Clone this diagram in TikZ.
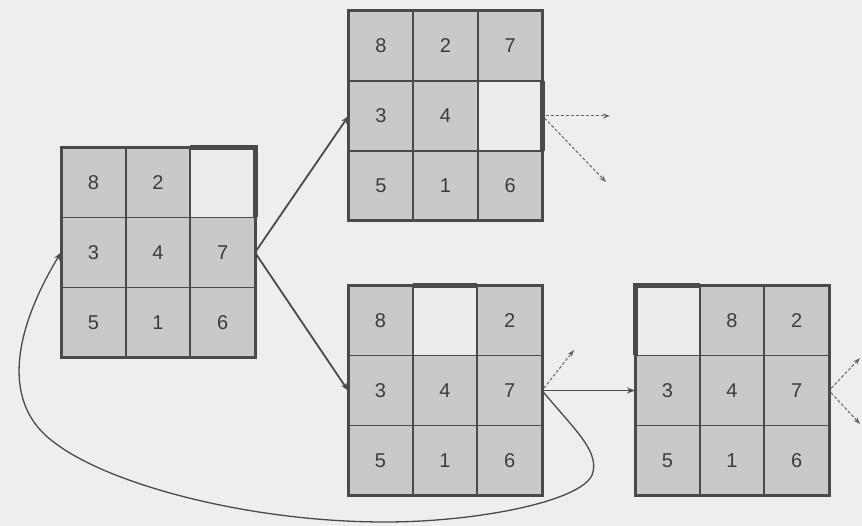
\documentclass[tikz,border=0pt]{standalone}
\usepackage{fontspec}
\setmainfont{Liberation Sans}
\usetikzlibrary{arrows.meta}
\definecolor{bg}{HTML}{EEEEEE}
\definecolor{tile}{HTML}{C9C9C9}
\definecolor{hole}{HTML}{ECECEC}
\definecolor{ink}{HTML}{4A4A4A}
\definecolor{digit}{HTML}{3C3C3C}
\tikzset{
  cell/.style={draw=ink, line width=1.8pt, minimum width=64.67pt, minimum height=70pt, inner sep=0pt, outer sep=0pt, font=\fontsize{20}{20}\selectfont, text=digit},
  tilecell/.style={cell, fill=tile},
  holecell/.style={cell, fill=hole},
  frame/.style={draw=ink, line width=3pt, minimum width=194pt, minimum height=210pt, inner sep=0pt, outer sep=0pt},
  holeedge/.style={draw=ink, line width=5pt},
  move/.style={draw=ink, line width=1.8pt, -{Stealth[length=8pt,width=6pt]}},
  loopmove/.style={draw=ink, line width=1.3pt, -{Stealth[length=8pt,width=6pt]}},
  nextmove/.style={draw=ink!85, line width=1pt, dash pattern=on 3pt off 2pt, -{Stealth[length=7pt,width=5pt]}, shorten <=3pt},
}
\newcommand\puzzlegrid[4]{%
  \foreach \v [count=\i from 0] in {#4} {
    \pgfmathtruncatemacro\rr{\i/3}
    \pgfmathtruncatemacro\cc{mod(\i,3)}
    \ifnum\v=0
      \node[holecell] (#1-\rr-\cc) at ({#2+(\cc-1)*64.67},{#3+(\rr-1)*70}) {};
    \else
      \node[tilecell] (#1-\rr-\cc) at ({#2+(\cc-1)*64.67},{#3+(\rr-1)*70}) {\v};
    \fi
  }
  \node[frame] (#1) at (#2,#3) {};
}
\begin{document}
\begin{tikzpicture}[x=1pt, y=-1pt]
  \useasboundingbox (0,0) rectangle (862,526);
  \fill[bg] (0,0) rectangle (862,526);

  \puzzlegrid{A}{158}{252.5}{8,2,0,3,4,7,5,1,6}
  \puzzlegrid{B}{445.5}{116}{8,2,7,3,4,0,5,1,6}
  \puzzlegrid{C}{445}{390.5}{8,0,2,3,4,7,5,1,6}
  \puzzlegrid{D}{732}{390.5}{0,8,2,3,4,7,5,1,6}

  % thicker outer edges around the empty squares
  \draw[holeedge] (A-0-2.north west) -- (A-0-2.north east) -- (A-0-2.south east);
  \draw[holeedge] (B-1-2.north east) -- (B-1-2.south east);
  \draw[holeedge] (C-0-1.north west) -- (C-0-1.north east);
  \draw[holeedge] (D-0-0.south west) -- (D-0-0.north west) -- (D-0-0.north east);

  % moves
  \draw[move] (A.east) -- (B.west);
  \draw[move] (A.east) -- (C.west);
  \draw[move] (C.east) -- (D.west);
  \draw[loopmove] (C.east) .. controls (575,430) and (598,450) .. (593,472)
        .. controls (588,500) and (480,522) .. (385,522)
        .. controls (250,522) and (110,485) .. (55,443)
        .. controls (-5,400) and (20,320) .. (A.west);

  % further (dashed) moves
  \coordinate (b1) at (610,116);
  \coordinate (b2) at (606,182);
  \coordinate (c1) at (574,350);
  \coordinate (d1) at (860,358);
  \coordinate (d2) at (860,424);
  \draw[nextmove] (B.east) -- (b1);
  \draw[nextmove] (B.east) -- (b2);
  \draw[nextmove] (C.east) -- (c1);
  \draw[nextmove] (D.east) -- (d1);
  \draw[nextmove] (D.east) -- (d2);
\end{tikzpicture}
\end{document}
